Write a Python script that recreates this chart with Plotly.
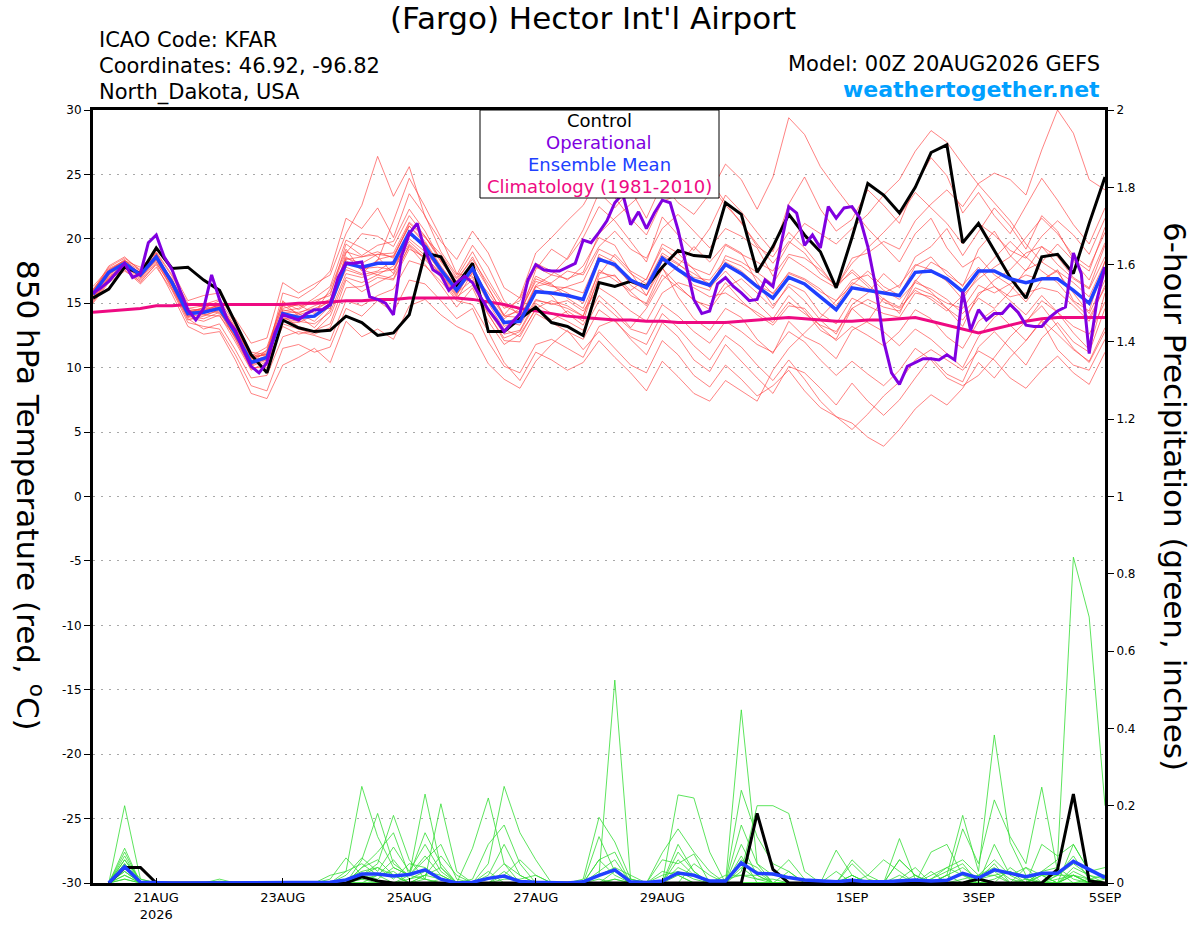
import pandas as pd
import plotly.graph_objects as go

# forecast valid times: GEFS members every 6 h, operational run every 3 h
times = pd.date_range('2026-08-20 00:00', '2026-09-05 00:00', freq='6h')
times_op = pd.date_range('2026-08-20 00:00', '2026-09-05 00:00', freq='3h')
times_precip = times[1:]  # 6-hour totals start at the first 06Z step

tick_dates = ['2026-08-21', '2026-08-23', '2026-08-25', '2026-08-27',
              '2026-08-29', '2026-09-01', '2026-09-03', '2026-09-05']
tick_labels = ['21AUG<br>2026', '23AUG', '25AUG', '27AUG', '29AUG', '1SEP', '3SEP', '5SEP']
temp_ticks = [-30, -25, -20, -15, -10, -5, 0, 5, 10, 15, 20, 25, 30]
precip_ticks = [0, 0.2, 0.4, 0.6, 0.8, 1, 1.2, 1.4, 1.6, 1.8, 2]

# 850 hPa temperature (C)
control_t = [15.4, 16.1, 17.8, 17.3, 19.3, 17.7, 17.8, 16.8, 16.0, 13.5,
             11.0, 9.6, 13.7, 13.1, 12.8, 12.9, 14.0, 13.5, 12.5, 12.7,
             14.1, 18.9, 18.6, 16.4, 18.1, 12.8, 12.8, 13.8, 14.7, 13.5,
             13.2, 12.5, 16.6, 16.3, 16.7, 16.3, 17.8, 19.1, 18.7, 18.6,
             22.8, 21.9, 17.4, 19.4, 21.9, 20.3, 19.0, 16.2, 20.1, 24.3,
             23.4, 22.0, 24.0, 26.7, 27.3, 19.7, 21.2, 19.1, 17.0, 15.4,
             18.6, 18.8, 17.3, 21.2, 24.8]

mean_t = [15.7, 17.4, 18.1, 17.2, 18.6, 16.6, 14.2, 14.3, 14.6, 12.7,
          10.4, 10.8, 14.2, 13.9, 14.0, 14.9, 18.1, 17.8, 18.1, 18.1,
          20.5, 19.4, 17.6, 16.0, 17.7, 15.3, 13.5, 13.6, 15.9, 15.8,
          15.6, 15.3, 18.4, 18.0, 16.8, 16.2, 18.5, 17.6, 16.8, 16.4,
          18.0, 17.3, 16.3, 15.4, 17.0, 16.5, 15.5, 14.5, 16.2, 16.0,
          15.8, 15.6, 17.4, 17.5, 16.9, 15.9, 17.5, 17.5, 16.9, 16.6,
          16.9, 16.9, 16.0, 15.0, 17.8]

clim_t = [14.3, 14.4, 14.5, 14.6, 14.8, 14.8, 14.9, 14.9, 14.9, 14.9,
          14.9, 14.9, 14.9, 15.0, 15.0, 15.1, 15.2, 15.2, 15.3, 15.3,
          15.4, 15.4, 15.4, 15.4, 15.3, 15.1, 14.9, 14.6, 14.4, 14.2,
          14.0, 13.9, 13.8, 13.7, 13.7, 13.6, 13.6, 13.5, 13.5, 13.5,
          13.5, 13.6, 13.7, 13.8, 13.9, 13.8, 13.7, 13.6, 13.6, 13.7,
          13.7, 13.8, 13.9, 13.6, 13.3, 13.0, 12.7, 13.0, 13.3, 13.6,
          13.8, 13.9, 13.9, 13.9, 13.9]

operational_t = [15.8, 16.2, 16.7, 17.4, 18.1, 17.0, 17.3, 19.7, 20.3, 18.6,
                 17.6, 16.0, 14.5, 13.7, 14.6, 17.2, 15.3, 13.7, 12.9, 11.4,
                 10.1, 9.6, 10.4, 12.7, 14.1, 13.9, 13.7, 14.2, 14.5, 14.5,
                 14.9, 17.0, 18.1, 18.1, 18.2, 15.5, 15.3, 15.0, 14.1, 18.6,
                 20.4, 21.2, 19.1, 17.6, 17.2, 16.0, 16.6, 17.1, 16.6, 15.5,
                 14.5, 13.7, 12.8, 13.5, 14.2, 16.8, 18.0, 17.6, 17.5, 17.5,
                 17.8, 18.1, 19.9, 19.7, 20.5, 21.4, 22.8, 23.5, 21.1, 22.1,
                 20.8, 22.0, 23.0, 22.8, 20.7, 18.1, 15.3, 14.2, 14.4, 16.5,
                 17.0, 16.3, 15.8, 15.2, 15.3, 16.8, 16.3, 19.5, 22.5, 22.0,
                 19.5, 20.3, 19.3, 22.5, 21.6, 22.4, 22.5, 21.6, 19.4, 16.3,
                 12.1, 9.6, 8.7, 10.1, 10.4, 10.7, 10.7, 10.6, 11.0, 10.6,
                 15.9, 12.9, 14.5, 13.7, 14.2, 14.2, 14.9, 14.3, 13.3, 13.2,
                 13.2, 13.9, 14.4, 14.7, 18.9, 17.3, 11.1, 15.3, 17.8]

member_t = [
    [15.9, 17.8, 18.5, 17.6, 19.2, 17.5, 15.2, 15.6, 15.8, 13.6, 11.2, 11.0, 15.8, 15.4, 16.2, 17.5,
     21.6, 20.8, 22.4, 20.1, 23.5, 21.8, 19.0, 17.2, 19.5, 17.8, 15.2, 14.0, 17.6, 19.2, 18.4, 20.1,
     22.5, 21.4, 19.8, 18.2, 21.7, 20.3, 19.1, 20.8, 23.4, 22.1, 20.5, 19.0, 22.7, 24.8, 22.3, 20.6,
     21.5, 23.8, 22.6, 21.2, 24.1, 26.3, 24.9, 22.0, 23.6, 21.8, 20.4, 22.5, 24.7, 23.0, 21.1, 19.6, 22.4],
    [15.2, 16.8, 17.6, 16.5, 17.8, 16.0, 13.5, 13.2, 13.0, 11.0, 8.6, 8.2, 11.5, 11.8, 11.2, 11.6,
     14.6, 14.0, 15.2, 14.3, 16.8, 16.5, 15.2, 13.8, 14.6, 12.0, 10.1, 9.6, 11.8, 12.2, 11.5, 10.8,
     13.2, 13.7, 12.2, 11.0, 13.5, 12.4, 10.6, 9.7, 11.8, 10.5, 9.2, 8.0, 10.1, 9.6, 8.4, 7.1,
     8.8, 7.4, 6.3, 7.5, 9.2, 10.8, 9.5, 8.9, 11.6, 12.8, 11.5, 10.2, 12.3, 13.5, 12.0, 11.2, 14.6],
    [16.1, 17.6, 18.3, 17.8, 18.9, 17.1, 14.8, 14.9, 15.3, 13.8, 11.9, 12.3, 16.6, 15.8, 16.5, 17.2,
     20.4, 22.6, 26.4, 23.3, 25.6, 21.7, 19.8, 18.4, 20.6, 18.9, 16.2, 15.4, 18.1, 17.5, 16.8, 17.9,
     20.1, 19.5, 17.4, 15.6, 17.8, 15.5, 13.8, 12.9, 14.6, 13.9, 12.2, 11.1, 13.6, 12.4, 11.8, 10.7,
     12.9, 13.6, 15.4, 14.2, 16.7, 18.2, 17.5, 16.3, 19.2, 20.6, 18.7, 17.5, 19.4, 18.6, 17.0, 16.2, 19.5],
    [15.5, 17.1, 17.9, 16.9, 18.4, 16.2, 13.9, 13.6, 14.1, 12.0, 9.8, 10.5, 13.2, 12.6, 12.9, 13.4,
     16.8, 15.9, 16.6, 17.2, 19.4, 18.0, 16.4, 14.7, 16.2, 13.6, 11.8, 12.6, 14.5, 13.7, 14.4, 13.6,
     17.2, 18.8, 17.5, 16.8, 19.6, 18.9, 17.6, 16.2, 17.5, 16.2, 15.0, 13.8, 15.6, 14.4, 12.9, 12.2,
     14.6, 13.5, 12.8, 11.7, 13.0, 12.2, 11.1, 10.0, 12.4, 13.9, 14.8, 13.5, 15.2, 14.3, 12.7, 11.4, 15.8],
    [15.8, 17.3, 18.2, 17.0, 18.7, 16.8, 14.6, 14.8, 15.0, 13.2, 10.9, 11.6, 15.1, 14.5, 15.2, 15.6,
     19.6, 18.7, 19.5, 19.8, 22.3, 20.6, 18.3, 16.9, 18.4, 16.5, 14.6, 15.2, 17.8, 17.2, 18.5, 20.7,
     23.6, 22.4, 23.8, 21.6, 24.3, 22.8, 21.9, 23.5, 25.8, 24.6, 22.3, 24.8, 29.4, 28.1, 25.6, 23.9,
     22.3, 20.8, 19.5, 18.2, 20.4, 21.6, 19.3, 17.8, 18.6, 17.2, 16.4, 15.1, 16.8, 17.6, 15.2, 14.4, 18.3],
    [15.0, 16.6, 17.5, 16.7, 18.0, 15.7, 13.2, 12.6, 12.8, 10.6, 8.0, 7.6, 10.2, 10.8, 11.5, 10.4,
     13.6, 12.4, 13.0, 12.2, 14.8, 15.3, 14.1, 13.2, 12.6, 10.3, 9.1, 8.4, 10.5, 11.8, 12.9, 11.4,
     12.8, 11.5, 10.2, 9.6, 12.1, 11.0, 9.4, 8.5, 10.2, 9.1, 7.8, 8.6, 9.8, 8.2, 6.9, 6.2,
     5.7, 4.6, 3.9, 5.2, 6.8, 7.9, 7.1, 8.4, 10.4, 9.2, 10.8, 12.1, 13.6, 11.4, 10.2, 9.8, 12.2],
    [15.4, 17.0, 18.0, 17.4, 18.6, 16.4, 14.1, 14.3, 14.8, 12.5, 10.1, 10.6, 14.6, 14.9, 14.2, 16.1,
     19.2, 17.5, 18.3, 21.4, 24.7, 22.5, 20.1, 17.3, 17.1, 15.5, 13.2, 13.8, 16.3, 15.6, 14.2, 13.3,
     15.6, 14.5, 13.1, 14.6, 16.8, 17.9, 19.4, 18.2, 19.6, 18.9, 16.6, 14.8, 16.3, 15.2, 13.7, 12.6,
     14.9, 15.8, 17.3, 16.2, 18.6, 19.4, 20.8, 18.7, 20.5, 22.4, 21.0, 19.2, 21.8, 20.6, 18.4, 17.5, 20.9],
    [16.0, 17.9, 18.6, 17.5, 19.0, 17.2, 15.0, 14.7, 14.2, 12.9, 11.0, 10.9, 14.0, 13.2, 12.8, 14.0,
     17.0, 16.6, 17.2, 16.9, 19.5, 18.4, 17.0, 15.3, 17.4, 15.0, 13.0, 12.4, 14.6, 15.2, 14.8, 14.0,
     16.9, 17.2, 15.6, 15.0, 17.7, 16.4, 15.2, 14.8, 16.6, 15.2, 14.1, 13.3, 14.8, 14.6, 13.2, 12.1,
     13.2, 12.5, 11.7, 12.8, 14.5, 13.8, 12.4, 11.5, 13.6, 14.5, 13.3, 12.1, 13.7, 12.6, 11.4, 10.5, 13.1],
    [15.6, 17.5, 18.4, 17.1, 18.8, 16.5, 14.0, 14.4, 14.9, 12.8, 10.6, 11.2, 14.8, 14.2, 13.6, 14.8,
     18.4, 18.6, 19.0, 18.5, 21.2, 20.1, 18.8, 17.0, 19.0, 16.8, 14.8, 14.2, 16.9, 16.4, 15.8, 15.0,
     18.8, 18.2, 16.4, 15.6, 18.3, 17.6, 16.4, 16.0, 18.7, 18.2, 17.4, 16.5, 18.6, 17.8, 16.9, 16.2,
     18.5, 18.9, 19.8, 19.2, 21.4, 22.7, 23.8, 22.5, 24.3, 25.1, 24.6, 23.4, 26.9, 30.0, 28.2, 24.6, 23.8],
    [15.3, 16.9, 17.7, 16.8, 18.2, 16.1, 13.7, 14.0, 14.5, 12.2, 9.9, 10.2, 13.6, 13.5, 14.1, 15.0,
     17.6, 17.2, 17.5, 18.3, 20.0, 19.0, 17.5, 16.4, 17.0, 14.4, 12.6, 12.9, 15.2, 15.0, 14.6, 14.0,
     17.6, 16.8, 15.9, 14.8, 17.2, 16.2, 15.3, 14.5, 16.2, 16.9, 15.8, 14.6, 16.5, 15.9, 14.2, 13.4,
     15.4, 14.8, 14.2, 13.9, 15.8, 15.5, 14.6, 13.2, 15.8, 16.3, 15.5, 15.8, 16.2, 15.9, 14.8, 13.6, 16.4],
    [16.3, 17.7, 18.3, 17.3, 18.5, 16.9, 14.5, 14.1, 14.0, 12.4, 10.3, 11.4, 15.2, 14.0, 13.1, 14.5,
     18.9, 20.4, 20.2, 19.4, 21.8, 20.2, 18.2, 16.6, 18.2, 16.2, 14.1, 15.5, 18.9, 20.1, 21.4, 22.6,
     24.8, 23.2, 21.6, 20.3, 22.9, 23.4, 25.8, 24.2, 22.6, 21.3, 19.4, 18.6, 20.5, 19.3, 17.8, 16.2,
     17.6, 16.5, 15.3, 14.7, 16.8, 15.9, 14.6, 13.7, 15.4, 14.6, 15.9, 17.6, 18.2, 19.6, 18.3, 16.8, 19.7],
    [15.1, 16.7, 17.8, 16.6, 18.1, 16.3, 13.8, 13.0, 13.4, 11.4, 9.2, 9.4, 12.4, 12.8, 12.5, 12.1,
     15.2, 14.8, 15.6, 16.1, 18.3, 17.9, 16.7, 15.2, 14.9, 12.8, 10.4, 9.0, 11.2, 10.6, 9.8, 10.4,
     12.1, 10.8, 9.6, 8.2, 10.5, 9.3, 8.0, 7.4, 9.0, 8.2, 7.4, 9.8, 11.5, 12.7, 13.9, 15.2,
     16.4, 17.5, 16.3, 15.6, 17.9, 18.6, 17.2, 16.4, 17.8, 16.3, 15.2, 14.1, 15.6, 14.3, 13.2, 12.6, 15.1],
    [15.7, 17.2, 18.0, 17.2, 18.9, 16.6, 14.3, 14.6, 15.2, 13.4, 10.8, 11.0, 14.4, 14.6, 15.4, 16.3,
     19.9, 19.3, 18.6, 17.3, 20.7, 19.2, 17.3, 15.7, 17.6, 15.2, 13.4, 13.7, 16.3, 16.6, 17.5, 17.2,
     19.4, 20.6, 19.2, 18.5, 20.8, 21.9, 20.6, 19.3, 20.8, 20.2, 19.3, 17.1, 18.8, 18.5, 17.6, 16.3,
     18.1, 19.3, 20.5, 21.8, 23.6, 22.4, 21.2, 19.6, 21.2, 20.3, 19.1, 18.5, 20.2, 21.4, 20.3, 18.8, 21.6],
    [15.9, 17.5, 18.0, 17.0, 18.3, 16.4, 14.0, 13.8, 14.3, 12.3, 10.0, 10.0, 13.4, 13.0, 12.6, 13.1,
     16.2, 16.3, 17.0, 16.8, 19.2, 18.6, 17.3, 15.8, 16.8, 14.2, 12.1, 12.0, 14.2, 13.5, 12.8, 12.2,
     14.5, 13.6, 12.4, 11.8, 14.2, 13.1, 11.7, 10.6, 12.5, 11.6, 10.2, 9.0, 10.6, 9.1, 7.4, 6.2,
     5.2, 6.4, 7.8, 8.9, 10.6, 11.4, 10.6, 9.8, 11.3, 10.6, 9.2, 8.4, 9.8, 10.9, 9.6, 8.7, 11.2],
    [15.5, 17.2, 18.2, 17.3, 18.5, 16.7, 14.4, 14.2, 14.6, 12.6, 10.5, 10.9, 14.5, 14.2, 14.8, 15.3,
     18.6, 17.7, 17.8, 17.6, 20.3, 19.7, 17.8, 16.3, 17.3, 15.8, 14.0, 14.4, 16.7, 16.3, 16.2, 15.8,
     18.6, 17.8, 16.6, 16.1, 18.7, 18.0, 17.3, 16.5, 18.2, 17.5, 16.4, 15.8, 17.3, 16.8, 15.9, 15.2,
     16.8, 17.2, 16.0, 15.3, 16.6, 16.1, 15.3, 14.2, 15.6, 16.8, 17.6, 18.9, 19.4, 18.0, 16.9, 16.1, 18.6],
    [15.6, 17.4, 18.3, 17.5, 18.8, 16.6, 14.3, 14.5, 14.7, 12.6, 10.2, 10.7, 14.1, 14.1, 14.5, 14.6,
     17.8, 17.3, 18.4, 18.7, 21.0, 19.8, 17.9, 16.2, 17.9, 15.5, 13.8, 14.6, 17.1, 16.5, 15.4, 14.6,
     17.4, 17.1, 16.0, 16.9, 19.3, 18.4, 17.7, 17.2, 19.5, 18.8, 18.2, 17.5, 19.6, 21.2, 20.4, 19.6,
     20.8, 21.9, 23.4, 24.6, 26.8, 28.4, 27.5, 25.8, 24.2, 22.8, 21.4, 19.6, 18.2, 17.4, 15.8, 14.2, 16.8],
    [15.2, 16.9, 17.9, 17.1, 18.4, 16.5, 14.2, 14.7, 15.0, 12.9, 10.5, 10.6, 13.8, 13.9, 14.4, 15.2,
     18.3, 17.6, 17.2, 17.9, 19.8, 18.7, 17.2, 15.6, 17.8, 15.4, 13.6, 13.3, 15.3, 14.9, 15.2, 14.4,
     16.2, 15.4, 14.4, 13.6, 15.8, 16.6, 16.2, 15.5, 15.8, 15.0, 14.3, 13.5, 15.1, 14.2, 13.3, 12.8,
     14.6, 15.3, 14.7, 14.4, 16.2, 15.7, 15.0, 14.6, 16.4, 15.8, 16.5, 17.2, 16.8, 17.5, 16.6, 15.5, 18.2],
    [16.0, 17.6, 18.2, 17.2, 18.6, 16.8, 14.6, 14.4, 14.9, 13.0, 10.8, 11.3, 14.9, 14.8, 15.0, 15.8,
     19.0, 18.6, 18.8, 18.9, 21.3, 20.2, 18.4, 16.7, 18.6, 16.2, 14.0, 13.9, 16.4, 17.2, 16.9, 17.4,
     20.4, 21.6, 22.7, 23.8, 25.4, 24.6, 26.2, 24.6, 22.8, 21.2, 19.6, 18.1, 19.8, 18.9, 17.3, 16.4,
     17.4, 16.3, 15.1, 14.6, 16.0, 15.3, 14.4, 15.6, 16.9, 17.8, 18.6, 20.1, 21.6, 20.4, 18.7, 17.8, 20.5],
    [15.4, 17.0, 17.8, 17.1, 18.5, 16.4, 14.0, 14.1, 14.4, 12.4, 10.2, 10.9, 13.8, 13.6, 13.4, 14.3,
     17.3, 17.0, 17.4, 17.6, 19.6, 18.5, 17.1, 15.5, 16.4, 14.1, 12.3, 12.8, 15.0, 14.2, 13.6, 12.9,
     15.2, 14.1, 13.0, 12.6, 14.9, 14.0, 12.8, 11.9, 13.6, 12.8, 11.8, 11.2, 12.8, 12.0, 10.6, 9.4,
     10.5, 9.5, 8.6, 9.8, 11.5, 10.6, 9.2, 8.6, 9.4, 10.8, 12.4, 13.6, 14.8, 13.2, 11.5, 10.4, 12.8],
    [15.8, 17.3, 18.1, 17.4, 18.7, 16.7, 14.4, 14.6, 14.8, 13.1, 10.7, 11.1, 14.3, 14.3, 14.6, 15.1,
     18.5, 18.1, 18.8, 18.6, 21.0, 19.6, 17.7, 16.1, 17.5, 15.2, 13.5, 13.9, 16.0, 15.8, 16.3, 16.7,
     19.2, 18.6, 17.3, 16.5, 18.9, 18.1, 17.0, 16.8, 18.4, 17.9, 17.0, 15.7, 17.4, 16.9, 16.1, 14.8,
     16.6, 16.1, 15.8, 16.4, 18.0, 17.6, 16.7, 15.3, 17.2, 18.5, 19.8, 18.6, 17.5, 16.6, 15.1, 13.9, 16.2],
]

# 6-hour precipitation (inches), 20 Aug 06Z ... 5 Sep 00Z
control_p = [0, 0.04, 0.04, 0, 0, 0, 0, 0, 0, 0, 0, 0, 0, 0, 0, 0,
             0.016, 0.005, 0, 0, 0, 0, 0, 0, 0, 0, 0, 0, 0, 0, 0, 0,
             0, 0, 0, 0, 0, 0, 0, 0, 0, 0.18, 0.035, 0, 0, 0, 0, 0,
             0, 0, 0, 0, 0, 0, 0, 0.01, 0, 0, 0, 0, 0.035, 0.23, 0.005, 0]

mean_p = [0, 0.042, 0.002, 0, 0, 0, 0, 0.001, 0, 0, 0, 0, 0, 0, 0.002, 0.008,
          0.023, 0.023, 0.018, 0.022, 0.034, 0.01, 0, 0.002, 0.012, 0.018, 0.004, 0.002, 0, 0, 0.003, 0.02,
          0.034, 0.003, 0.001, 0.005, 0.026, 0.02, 0.005, 0.005, 0.052, 0.025, 0.023, 0.014, 0.008, 0.005, 0.003, 0.007,
          0.003, 0.003, 0.005, 0.008, 0.005, 0.007, 0.025, 0.013, 0.034, 0.025, 0.016, 0.025, 0.025, 0.056, 0.034, 0.014]

member_p = [
    [0, 0.2, 0.01, 0, 0, 0, 0, 0, 0, 0, 0, 0, 0, 0, 0, 0.03,
     0.25, 0.12, 0.04, 0.02, 0.01, 0, 0, 0, 0.05, 0.25, 0.13, 0.06, 0, 0, 0, 0.02,
     0.525, 0.01, 0, 0, 0.1, 0.03, 0, 0, 0.1, 0.02, 0, 0, 0, 0, 0, 0,
     0, 0, 0, 0, 0, 0.02, 0.04, 0.01, 0.02, 0, 0, 0.03, 0.06, 0.843, 0.688, 0.2],
    [0, 0.09, 0, 0, 0, 0, 0, 0, 0, 0, 0, 0, 0, 0, 0, 0,
     0.06, 0.18, 0.05, 0.02, 0.23, 0.04, 0, 0, 0.02, 0.1, 0.02, 0, 0, 0, 0.01, 0.17,
     0.106, 0.01, 0, 0, 0.228, 0.22, 0.08, 0, 0.03, 0.2, 0.2, 0.18, 0.03, 0, 0, 0,
     0, 0, 0.06, 0.02, 0, 0, 0, 0, 0.01, 0.03, 0, 0.02, 0, 0.1, 0.03, 0.02],
    [0, 0.08, 0, 0, 0, 0, 0, 0, 0, 0, 0, 0, 0, 0, 0.01, 0.065,
     0.02, 0.05, 0.175, 0.06, 0.01, 0.205, 0.03, 0, 0, 0.03, 0, 0, 0, 0, 0, 0.06,
     0.08, 0, 0, 0.078, 0.14, 0.08, 0.03, 0, 0.448, 0.05, 0, 0, 0, 0, 0.085, 0.02,
     0, 0, 0.115, 0.01, 0, 0.02, 0.175, 0.03, 0.383, 0.105, 0.02, 0, 0, 0.02, 0, 0],
    [0, 0.07, 0, 0, 0, 0, 0, 0.01, 0, 0, 0, 0, 0, 0, 0, 0,
     0.04, 0.08, 0.13, 0.02, 0.13, 0.05, 0, 0.09, 0.22, 0.05, 0, 0, 0, 0, 0, 0.12,
     0.03, 0, 0, 0.06, 0.05, 0.075, 0, 0, 0.24, 0.12, 0.05, 0.03, 0, 0, 0, 0.06,
     0.02, 0, 0, 0, 0.03, 0, 0.14, 0.05, 0.215, 0.12, 0.05, 0.248, 0.03, 0, 0, 0],
    [0, 0.06, 0, 0, 0, 0, 0, 0, 0, 0, 0, 0, 0, 0, 0, 0.02,
     0.065, 0.03, 0.093, 0.03, 0.1, 0.03, 0, 0.01, 0.1, 0.15, 0.05, 0, 0, 0, 0, 0.06,
     0.02, 0, 0, 0, 0.08, 0.03, 0, 0, 0.15, 0.05, 0.02, 0.06, 0.01, 0, 0, 0,
     0.02, 0.06, 0.03, 0, 0.08, 0.1, 0.02, 0, 0.1, 0.02, 0, 0.1, 0.07, 0.1, 0.03, 0.04],
    [0, 0.06, 0.01, 0, 0, 0, 0, 0, 0, 0, 0, 0, 0, 0, 0, 0,
     0.02, 0.01, 0.04, 0.02, 0.07, 0.02, 0, 0, 0, 0.02, 0.06, 0.02, 0, 0, 0, 0,
     0.01, 0, 0, 0.03, 0.02, 0, 0, 0.01, 0.02, 0.02, 0, 0.03, 0, 0, 0.03, 0,
     0, 0, 0.01, 0.04, 0, 0.02, 0, 0.01, 0.03, 0, 0.01, 0, 0.02, 0.07, 0.01, 0],
    [0, 0.05, 0, 0, 0, 0, 0, 0, 0, 0, 0, 0, 0, 0, 0, 0.01,
     0.03, 0.04, 0.01, 0.05, 0.04, 0.01, 0, 0, 0.03, 0, 0, 0, 0, 0, 0, 0.01,
     0, 0, 0, 0, 0.04, 0.02, 0, 0, 0.07, 0, 0, 0, 0, 0, 0, 0.02,
     0, 0, 0, 0, 0, 0, 0.01, 0.02, 0.06, 0.02, 0.04, 0, 0.02, 0.02, 0, 0.01],
    [0, 0.05, 0, 0, 0, 0, 0, 0, 0, 0, 0, 0, 0, 0, 0, 0,
     0, 0.02, 0.06, 0.01, 0.02, 0.07, 0.02, 0, 0, 0, 0, 0, 0, 0, 0, 0.03,
     0.06, 0, 0, 0, 0, 0.05, 0.02, 0, 0.05, 0.03, 0, 0, 0, 0, 0, 0,
     0, 0, 0, 0, 0.02, 0.04, 0.02, 0.01, 0.05, 0, 0, 0.02, 0, 0, 0, 0],
    [0, 0.04, 0, 0, 0, 0, 0, 0, 0, 0, 0, 0, 0, 0, 0, 0,
     0.04, 0.06, 0.02, 0, 0.02, 0.01, 0, 0, 0, 0, 0, 0, 0, 0, 0, 0,
     0, 0, 0, 0, 0, 0, 0, 0.02, 0.02, 0.01, 0, 0, 0, 0, 0, 0,
     0, 0, 0.06, 0.02, 0, 0, 0, 0, 0, 0, 0.04, 0.02, 0.02, 0.05, 0.02, 0],
    [0, 0.04, 0, 0, 0, 0, 0, 0, 0, 0, 0, 0, 0, 0, 0, 0,
     0.01, 0, 0, 0.01, 0.03, 0.02, 0, 0, 0.01, 0.05, 0.02, 0, 0, 0, 0, 0,
     0, 0, 0, 0.02, 0.03, 0.01, 0, 0, 0.04, 0.01, 0.01, 0, 0, 0, 0, 0.02,
     0, 0, 0, 0, 0.01, 0.03, 0.05, 0, 0, 0.04, 0.01, 0, 0, 0.03, 0.01, 0.02],
    [0, 0.03, 0, 0, 0, 0, 0, 0, 0, 0, 0, 0, 0, 0, 0.02, 0.03,
     0.05, 0.02, 0, 0.02, 0.06, 0.1, 0.01, 0, 0, 0, 0, 0, 0, 0, 0, 0,
     0.01, 0, 0, 0, 0.02, 0, 0, 0, 0, 0, 0, 0, 0, 0, 0, 0,
     0, 0, 0, 0, 0, 0, 0, 0.02, 0.04, 0.01, 0, 0, 0, 0.04, 0.02, 0.01],
    [0, 0.03, 0, 0, 0, 0, 0, 0, 0, 0, 0, 0, 0, 0, 0, 0,
     0.01, 0.02, 0.03, 0, 0, 0.01, 0, 0, 0, 0, 0, 0, 0, 0, 0, 0,
     0.03, 0.01, 0, 0, 0, 0, 0, 0, 0, 0, 0, 0, 0, 0, 0, 0.05,
     0.01, 0, 0, 0.02, 0, 0, 0, 0, 0, 0, 0, 0.03, 0.04, 0.01, 0, 0],
    [0, 0.02, 0, 0, 0, 0, 0, 0, 0, 0, 0, 0, 0, 0, 0, 0,
     0, 0, 0, 0, 0.01, 0, 0, 0, 0, 0, 0, 0, 0, 0, 0, 0,
     0, 0, 0, 0, 0, 0, 0, 0, 0, 0, 0, 0, 0, 0, 0, 0,
     0, 0, 0, 0, 0, 0, 0, 0, 0, 0, 0, 0, 0, 0, 0.01, 0],
    [0, 0.02, 0, 0, 0, 0, 0, 0.005, 0, 0, 0, 0, 0, 0, 0, 0,
     0, 0, 0, 0, 0, 0, 0, 0, 0, 0, 0, 0, 0, 0, 0, 0,
     0, 0, 0, 0, 0, 0, 0, 0, 0, 0, 0, 0, 0, 0, 0, 0,
     0, 0, 0, 0, 0, 0, 0, 0, 0, 0, 0, 0, 0, 0.02, 0, 0],
    [0, 0.01, 0, 0, 0, 0, 0, 0, 0, 0, 0, 0, 0, 0, 0, 0,
     0.02, 0.04, 0.02, 0, 0.02, 0.04, 0, 0, 0, 0.01, 0.01, 0.02, 0, 0, 0, 0.02,
     0.04, 0.02, 0, 0, 0.06, 0.02, 0, 0, 0.06, 0.04, 0, 0, 0, 0, 0, 0,
     0, 0, 0.02, 0, 0.01, 0.04, 0.06, 0.02, 0.02, 0.03, 0.01, 0, 0, 0.02, 0, 0],
    [0, 0.01, 0, 0, 0, 0, 0, 0, 0, 0, 0, 0, 0, 0, 0, 0,
     0, 0, 0, 0, 0, 0, 0, 0, 0, 0, 0, 0, 0, 0, 0, 0,
     0, 0, 0, 0, 0, 0, 0, 0, 0, 0, 0, 0, 0, 0, 0, 0,
     0, 0, 0, 0, 0, 0, 0, 0, 0, 0, 0, 0, 0.01, 0.02, 0.01, 0],
]

RED = 'rgba(255,60,60,0.8)'
GREEN = '#33dd33'
PURPLE = '#8000e0'
BLUE = '#2040ff'
PINK = '#ee0a82'
FONT = 'DejaVu Sans, Liberation Sans, sans-serif'


def px_x(x):
    # image pixel -> paper coordinate (plot spans x 93..1105)
    return (x - 93) / 1012


def px_y(y):
    # image pixel -> paper coordinate (plot spans y 110..883)
    return (883 - y) / 773


fig = go.Figure()

# ensemble members
for m in member_t:
    fig.add_trace(go.Scatter(x=times, y=m, mode='lines', line=dict(color=RED, width=0.8), hoverinfo='skip'))
for m in member_p:
    fig.add_trace(go.Scatter(x=times_precip, y=m, yaxis='y2', mode='lines',
                             line=dict(color=GREEN, width=0.8), hoverinfo='skip'))

# climatology, control, mean, operational
fig.add_trace(go.Scatter(x=times, y=clim_t, mode='lines', line=dict(color=PINK, width=3)))
fig.add_trace(go.Scatter(x=times, y=control_t, mode='lines', line=dict(color='black', width=3)))
fig.add_trace(go.Scatter(x=times, y=mean_t, mode='lines', line=dict(color=BLUE, width=3.5)))
fig.add_trace(go.Scatter(x=times_op, y=operational_t, mode='lines', line=dict(color=PURPLE, width=3)))
fig.add_trace(go.Scatter(x=times_precip, y=control_p, yaxis='y2', mode='lines', line=dict(color='black', width=3)))
fig.add_trace(go.Scatter(x=times_precip, y=mean_p, yaxis='y2', mode='lines', line=dict(color=BLUE, width=3.5)))

annotations = [
    dict(x=px_x(593), y=px_y(18), text="(Fargo) Hector Int'l Airport", font=dict(size=31)),
    dict(x=px_x(97), y=px_y(40), text='ICAO Code: KFAR', xanchor='left', font=dict(size=21)),
    dict(x=px_x(97), y=px_y(66), text='Coordinates: 46.92, -96.82', xanchor='left', font=dict(size=21)),
    dict(x=px_x(97), y=px_y(93), text='North_Dakota, USA', xanchor='left', font=dict(size=21)),
    dict(x=px_x(1102), y=px_y(64), text='Model: 00Z 20AUG2026 GEFS', xanchor='right', font=dict(size=21)),
    dict(x=px_x(1102), y=px_y(89), text='<b>weathertogether.net</b>', xanchor='right',
         font=dict(size=22, color='#00a0ff')),
    # legend text
    dict(x=0.5, y=px_y(121), text='Control', font=dict(size=18)),
    dict(x=0.5, y=px_y(142), text='Operational', font=dict(size=18, color=PURPLE)),
    dict(x=0.5, y=px_y(164), text='Ensemble Mean', font=dict(size=18, color=BLUE)),
    dict(x=0.5, y=px_y(186), text='Climatology (1981-2010)', font=dict(size=18, color=PINK)),
    # axis titles, both read top to bottom
    dict(x=px_x(30), y=px_y(495), text='850 hPa Temperature (red, <sup>o</sup>C)', textangle=90,
         font=dict(size=31)),
    dict(x=px_x(1175), y=px_y(496), text='6-hour Precipitation (green, inches)', textangle=90,
         font=dict(size=31)),
]
for a in annotations:
    a.update(xref='paper', yref='paper', showarrow=False)
    a.setdefault('xanchor', 'center')
    a['yanchor'] = 'middle'

fig.update_layout(
    width=1200, height=927,
    margin=dict(l=93, r=95, t=110, b=44),
    plot_bgcolor='white', paper_bgcolor='white',
    showlegend=False,
    font=dict(family=FONT, color='black'),
    annotations=annotations,
    shapes=[dict(type='rect', xref='paper', yref='paper', x0=px_x(480), x1=px_x(719),
                 y0=px_y(198), y1=1, fillcolor='white', line=dict(color='black', width=1), layer='above')],
    xaxis=dict(range=[times[0], times[-1]], tickvals=tick_dates, ticktext=tick_labels, automargin=False,
               showgrid=False, zeroline=False, showline=True, linecolor='black', linewidth=3, mirror=True,
               ticks='inside', ticklen=5, tickcolor='black', tickfont=dict(size=13)),
    yaxis=dict(range=[-30, 30], tickvals=temp_ticks, ticktext=[str(v) for v in temp_ticks], automargin=False,
               showgrid=True, gridcolor='#a8a8a8', griddash='2px,6px', gridwidth=1.2,
               zeroline=False, showline=True, linecolor='black', linewidth=3,
               ticks='outside', ticklen=6, tickcolor='black', tickfont=dict(size=12)),
    yaxis2=dict(range=[0, 2], tickvals=precip_ticks, ticktext=[f'{v:g}' for v in precip_ticks],
                overlaying='y', side='right', showgrid=False, automargin=False,
                zeroline=False, showline=True, linecolor='black', linewidth=3,
                ticks='outside', ticklen=6, tickcolor='black', tickfont=dict(size=12)),
)

fig.write_html('out.html', config={'displayModeBar': False},
               post_script="document.body.style.margin='0';")
